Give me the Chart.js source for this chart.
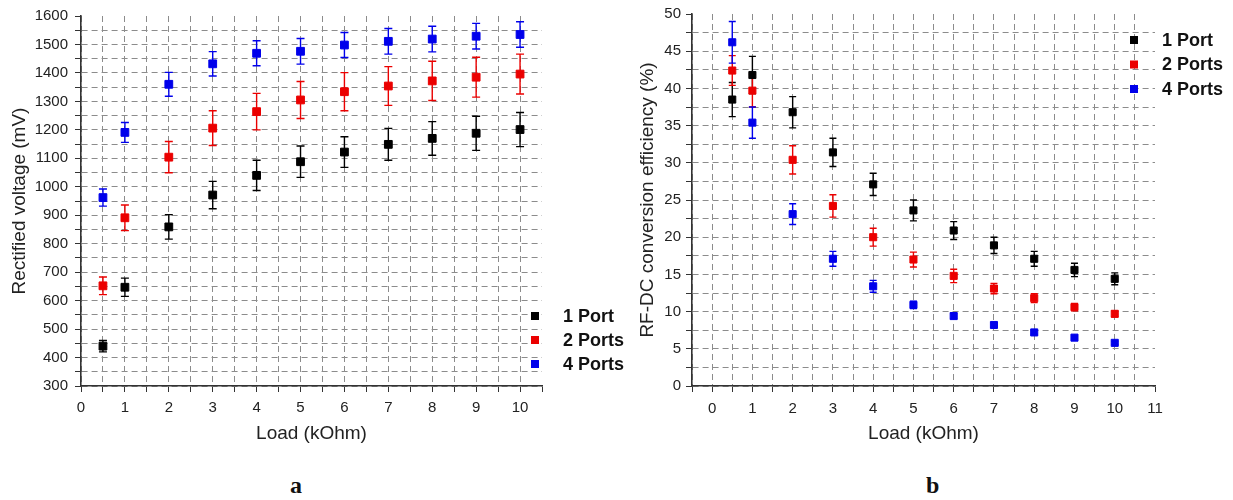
<!DOCTYPE html>
<html>
<head>
<meta charset="utf-8">
<title>Rectified voltage and RF-DC efficiency vs load</title>
<script src="https://cdn.jsdelivr.net/npm/chart.js@4/dist/chart.umd.min.js"></script>
<style>
  html, body { margin: 0; padding: 0; background: #fff; overflow: hidden; }
  #wrap { position: relative; width: 1233px; height: 500px; }
  canvas { position: absolute; top: 0; }
  #chartA { left: 0; }
  #chartB { left: 620px; }
  .panel { position: absolute; top: 472px; font: bold 24px "Liberation Serif", "DejaVu Serif", serif; color: #111; }
</style>
</head>
<body>
<div id="wrap">
  <canvas id="chartA" width="640" height="450"></canvas>
  <canvas id="chartB" width="613" height="450"></canvas>
  <div class="panel" style="left:290px">a</div>
  <div class="panel" style="left:926px">b</div>
</div>
<script>
// load values (kOhm), shared by both panels
var loads = [0.5, 1, 2, 3, 4, 5, 6, 7, 8, 9, 10];
var seriesNames = ['1 Port', '2 Ports', '4 Ports'];

// panel a: rectified voltage (mV) and error
var voltage1Port = [440, 647, 859, 971, 1040, 1088, 1122, 1149, 1170, 1188, 1201];
var voltage1PortErr = [20, 32, 43, 48, 53, 55, 54, 56, 59, 60, 60];
var voltage2Ports = [652, 891, 1104, 1206, 1264, 1305, 1334, 1354, 1372, 1385, 1396];
var voltage2PortsErr = [31, 45, 55, 61, 64, 65, 67, 68, 69, 70, 70];
var voltage4Ports = [962, 1191, 1360, 1432, 1469, 1476, 1498, 1511, 1519, 1529, 1535];
var voltage4PortsErr = [30, 35, 42, 43, 44, 45, 44, 45, 45, 45, 45];

// panel b: RF-DC conversion efficiency (%) and error
var eff1Port = [38.5, 41.8, 36.8, 31.4, 27.1, 23.6, 20.9, 18.9, 17.1, 15.6, 14.4];
var eff1PortErr = [2.3, 2.5, 2.1, 1.9, 1.5, 1.4, 1.2, 1.1, 1.0, 0.9, 0.8];
var eff2Ports = [42.4, 39.7, 30.4, 24.2, 20.0, 17.0, 14.8, 13.1, 11.8, 10.6, 9.7];
var eff2PortsErr = [2.0, 2.2, 1.9, 1.5, 1.2, 1.0, 0.9, 0.7, 0.6, 0.5, 0.4];
var eff4Ports = [46.2, 35.4, 23.1, 17.1, 13.4, 10.9, 9.4, 8.2, 7.2, 6.5, 5.8];
var eff4PortsErr = [2.8, 2.1, 1.4, 1.0, 0.8, 0.5, 0.35, 0.3, 0.25, 0.2, 0.2];

var colors = ['#000000', 'rgb(235,0,0)', 'rgb(0,0,235)'];

var FONT = '"Liberation Sans", Arial, sans-serif';
var GRID = '#8c8c8c';
var AXIS = '#333333';

function points(ys) {
  return loads.map(function (x, i) {
    return { x: x, y: ys[i] };
  });
}

function makeDatasets(values, errors, radius) {
  return values.map(function (v, i) {
    return {
      label: seriesNames[i],
      data: points(v),
      errors: errors[i],
      pointStyle: 'rect',
      pointRadius: radius,
      pointHoverRadius: radius,
      pointBorderWidth: 1,
      backgroundColor: colors[i],
      borderColor: colors[i],
      showLine: false
    };
  });
}

// vertical error bars with caps, drawn through the chart scales
var errorBars = {
  id: 'errorBars',
  beforeDatasetsDraw: function (chart, args, opts) {
    var ctx = chart.ctx;
    var xs = chart.scales.x;
    var ys = chart.scales.y;
    ctx.save();
    ctx.lineWidth = 1.4;
    chart.data.datasets.forEach(function (ds) {
      ctx.strokeStyle = ds.borderColor;
      ds.data.forEach(function (p, j) {
        var e = ds.errors[j];
        var px = xs.getPixelForValue(p.x);
        var top = ys.getPixelForValue(p.y + e);
        var bot = ys.getPixelForValue(p.y - e);
        ctx.beginPath();
        ctx.moveTo(px, top);
        ctx.lineTo(px, bot);
        ctx.moveTo(px - opts.cap, top);
        ctx.lineTo(px + opts.cap, top);
        ctx.moveTo(px - opts.cap, bot);
        ctx.lineTo(px + opts.cap, bot);
        ctx.stroke();
      });
    });
    ctx.restore();
  }
};

// Origin-style legend: small squares with bold labels
var sideLegend = {
  id: 'sideLegend',
  afterDraw: function (chart, args, opts) {
    var ctx = chart.ctx;
    ctx.save();
    ctx.font = 'bold 18px ' + FONT;
    ctx.textBaseline = 'middle';
    chart.data.datasets.forEach(function (ds, i) {
      var cy = opts.y + i * opts.gap;
      ctx.fillStyle = ds.backgroundColor;
      ctx.fillRect(opts.x - 4, cy - 4, 8, 8);
      ctx.fillStyle = '#111';
      ctx.fillText(ds.label, opts.textX, cy + 1);
    });
    ctx.restore();
  }
};

function axis(cfg) {
  return {
    type: 'linear',
    min: cfg.min,
    max: cfg.max,
    afterFit: cfg.afterFit,
    title: {
      display: true,
      text: cfg.title,
      color: '#222',
      font: { family: FONT, size: 19 },
      padding: { top: 8, bottom: 0 }
    },
    border: { display: true, color: AXIS, width: 1.6, dash: [6, 4] },
    grid: {
      color: function (c) {
        return c.tick && Math.abs(c.tick.value - cfg.max) < 1e-9 ? 'rgba(0,0,0,0)' : GRID;
      },
      lineWidth: 1,
      tickColor: AXIS,
      tickLength: 6,
      tickBorderDash: []
    },
    ticks: {
      stepSize: cfg.step,
      autoSkip: false,
      maxRotation: 0,
      padding: cfg.pad,
      color: '#222',
      font: { family: FONT, size: 15 },
      callback: function (v) {
        var r = v / cfg.labelEvery;
        return Math.abs(r - Math.round(r)) < 1e-6 ? String(Math.round(v)) : '';
      }
    }
  };
}

function baseOptions(layoutPad, xCfg, yCfg, legendPos, cap) {
  return {
    responsive: false,
    animation: false,
    devicePixelRatio: 1,
    layout: { padding: layoutPad },
    plugins: {
      legend: { display: false },
      tooltip: { enabled: false },
      errorBars: { cap: cap },
      sideLegend: legendPos
    },
    scales: { x: axis(xCfg), y: axis(yCfg) }
  };
}

new Chart(document.getElementById('chartA'), {
  type: 'scatter',
  data: {
    datasets: makeDatasets(
      [voltage1Port, voltage2Ports, voltage4Ports],
      [voltage1PortErr, voltage2PortsErr, voltage4PortsErr],
      5.5
    )
  },
  options: baseOptions(
    { left: 0, top: 14, right: 98, bottom: 5 },
    { min: 0, max: 10.5, step: 0.5, labelEvery: 1, pad: 7, title: 'Load (kOhm)',
      afterFit: function (s) { s.height = 59; } },
    { min: 300, max: 1600, step: 50, labelEvery: 100, pad: 7, title: 'Rectified voltage (mV)',
      afterFit: function (s) { s.width = 81; } },
    { x: 535, textX: 563, y: 316, gap: 24 },
    4
  ),
  plugins: [errorBars, sideLegend]
});

new Chart(document.getElementById('chartB'), {
  type: 'scatter',
  data: {
    datasets: makeDatasets(
      [eff1Port, eff2Ports, eff4Ports],
      [eff1PortErr, eff2PortsErr, eff4PortsErr],
      5
    )
  },
  options: baseOptions(
    { left: 8, top: 13, right: 78, bottom: 5 },
    { min: -0.5, max: 11, step: 0.5, labelEvery: 1, pad: 8, title: 'Load (kOhm)',
      afterFit: function (s) { s.height = 59; } },
    { min: 0, max: 50, step: 2.5, labelEvery: 5, pad: 5, title: 'RF-DC conversion efficiency (%)',
      afterFit: function (s) { s.width = 64; } },
    { x: 514, textX: 542, y: 40, gap: 24.5 },
    3.5
  ),
  plugins: [errorBars, sideLegend]
});
</script>
</body>
</html>
